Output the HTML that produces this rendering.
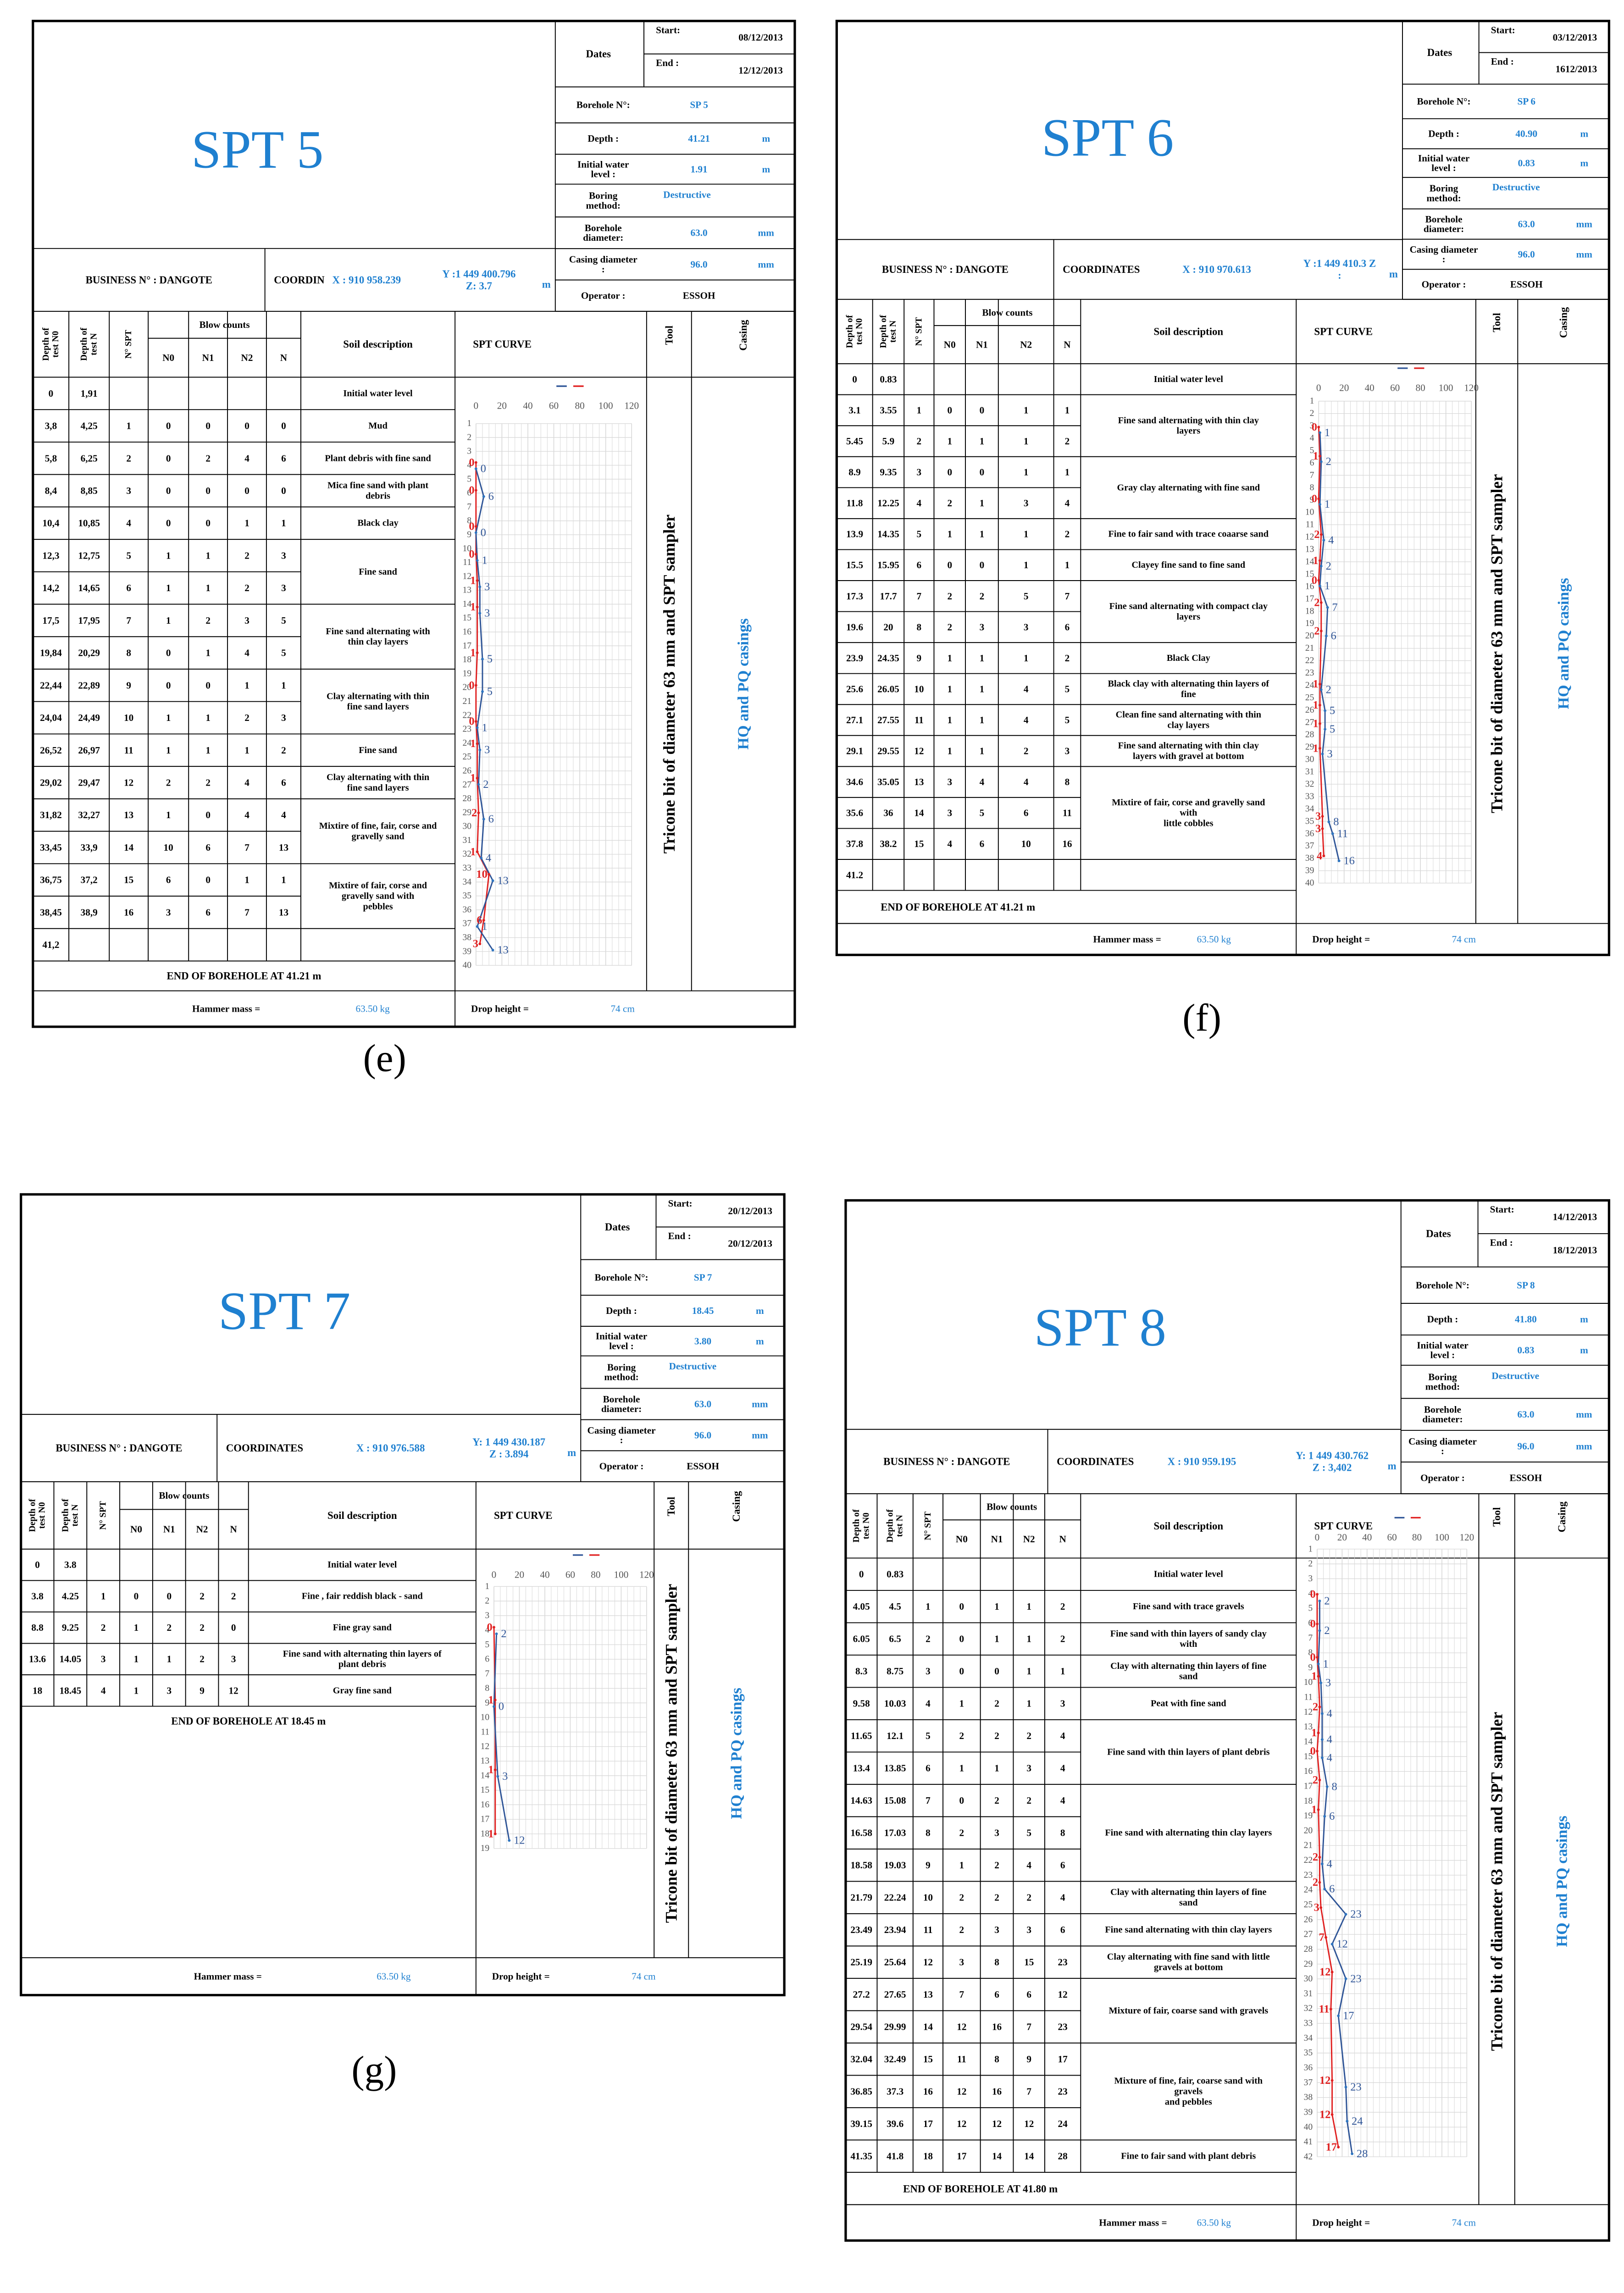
<!DOCTYPE html>
<html><head><meta charset="utf-8"><style>
html,body{margin:0;padding:0;background:#fff;width:3541px;height:5106px;overflow:hidden;}
svg{display:block;}
text{font-family:"Liberation Serif",serif;}
</style></head><body>
<svg id="root" xmlns="http://www.w3.org/2000/svg" width="3541" height="5106" viewBox="0 0 1085 1564.5"></svg>
<script>
// ---------- DATA: SPT 5 ----------
const e_depthN0 = [3.8,5.8,8.4,10.4,12.3,14.2,17.5,19.84,22.44,24.04,26.52,29.02,31.82,33.45,36.75,38.45];
const e_depthN  = [4.25,6.25,8.85,10.85,12.75,14.65,17.95,20.29,22.89,24.49,26.97,29.47,32.27,33.9,37.2,38.9];
const e_N0 = [0,0,0,0,1,1,1,0,0,1,1,2,1,10,6,3];
const e_N1 = [0,2,0,0,1,1,2,1,0,1,1,2,0,6,0,6];
const e_N2 = [0,4,0,1,2,2,3,4,1,2,1,4,4,7,1,7];
const e_N  = [0,6,0,1,3,3,5,5,1,3,2,6,4,13,1,13];
const e_soil = [[0,1,"Initial water level"],[1,1,"Mud"],[2,1,"Plant debris with fine sand"],[3,1,"Mica fine sand with plant|debris"],[4,1,"Black clay"],[5,2,"Fine sand"],[7,2,"Fine sand alternating with|thin clay layers"],[9,2,"Clay alternating with thin|fine sand layers"],[11,1,"Fine sand"],[12,1,"Clay alternating with thin|fine sand layers"],[13,2,"Mixtire of fine, fair, corse and|gravelly sand"],[15,2,"Mixtire of fair, corse and|gravelly sand with|pebbles"],[17,1,""]];
// ---------- DATA: SPT 6 ----------
const f_depthN0 = [3.1,5.45,8.9,11.8,13.9,15.5,17.3,19.6,23.9,25.6,27.1,29.1,34.6,35.6,37.8];
const f_depthN  = [3.55,5.9,9.35,12.25,14.35,15.95,17.7,20,24.35,26.05,27.55,29.55,35.05,36,38.2];
const f_N0 = [0,1,0,2,1,0,2,2,1,1,1,1,3,3,4];
const f_N1 = [0,1,0,1,1,0,2,3,1,1,1,1,4,5,6];
const f_N2 = [1,1,1,3,1,1,5,3,1,4,4,2,4,6,10];
const f_N  = [1,2,1,4,2,1,7,6,2,5,5,3,8,11,16];
const f_soil = [[0,1,"Initial water level"],[1,2,"Fine sand alternating with thin clay|layers"],[3,2,"Gray clay alternating with fine sand"],[5,1,"Fine to fair sand with trace coaarse sand"],[6,1,"Clayey fine sand to fine sand"],[7,2,"Fine sand alternating with compact clay|layers"],[9,1,"Black Clay"],[10,1,"Black clay with alternating thin layers of|fine"],[11,1,"Clean fine sand alternating with thin|clay layers"],[12,1,"Fine sand alternating with thin clay|layers with gravel at bottom"],[13,3,"Mixtire of fair, corse and gravelly sand|with|little cobbles"],[16,1,""]];
// ---------- DATA: SPT 7 ----------
const g_depthN0 = [3.8,8.8,13.6,18];
const g_depthN  = [4.25,9.25,14.05,18.45];
const g_N0 = [0,1,1,1];
const g_N1 = [0,2,1,3];
const g_N2 = [2,2,2,9];
const g_N  = [2,0,3,12];
const g_soil = [[0,1,"Initial water level"],[1,1,"Fine , fair reddish black - sand"],[2,1,"Fine gray sand"],[3,1,"Fine sand with alternating thin layers of|plant debris"],[4,1,"Gray fine sand"]];
// ---------- DATA: SPT 8 ----------
const h_depthN0 = [4.05,6.05,8.3,9.58,11.65,13.4,14.63,16.58,18.58,21.79,23.49,25.19,27.2,29.54,32.04,36.85,39.15,41.35];
const h_depthN  = [4.5,6.5,8.75,10.03,12.1,13.85,15.08,17.03,19.03,22.24,23.94,25.64,27.65,29.99,32.49,37.3,39.6,41.8];
const h_N0 = [0,0,0,1,2,1,0,2,1,2,2,3,7,12,11,12,12,17];
const h_N1 = [1,1,0,2,2,1,2,3,2,2,3,8,6,16,8,16,12,14];
const h_N2 = [1,1,1,1,2,3,2,5,4,2,3,15,6,7,9,7,12,14];
const h_N  = [2,2,1,3,4,4,4,8,6,4,6,23,12,23,17,23,24,28];
const h_soil = [[0,1,"Initial water level"],[1,1,"Fine sand with trace gravels"],[2,1,"Fine sand with thin layers of sandy clay|with"],[3,1,"Clay with alternating thin layers of fine|sand"],[4,1,"Peat with fine sand"],[5,2,"Fine sand with thin layers of plant debris"],[7,3,"Fine sand with alternating thin clay layers"],[10,1,"Clay with alternating thin layers of fine|sand"],[11,1,"Fine sand alternating with thin clay layers"],[12,1,"Clay alternating with fine sand with little|gravels at bottom"],[13,2,"Mixture of fair, coarse sand with gravels"],[15,3,"Mixture of fine, fair, coarse sand with|gravels|and pebbles"],[18,1,"Fine to fair sand with plant debris"]];
const xTicks = [0,20,40,60,80,100,120];

const NS="http://www.w3.org/2000/svg";
const root=document.getElementById('root');
function add(p,tag,a,name){
  const el=document.createElementNS(NS,tag);
  for(const k in a) el.setAttribute(k,a[k]);
  
  
  p.appendChild(el); return el;
}
function line(p,x1,y1,x2,y2,name,w,c){return add(p,'line',{x1,y1,x2,y2,stroke:c||'#000','stroke-width':w||0.6},name);}
function txt(p,x,y,s,size,name,o){
  o=o||{};
  const a={x,y,'font-size':size,'text-anchor':o.anchor||'middle','dominant-baseline':'central',fill:o.fill||'#000','font-weight':o.weight||'bold'};
  if(o.family) a['font-family']=o.family;
  if(o.rot) a.transform='rotate(-90 '+x+' '+y+')';
  const t=add(p,'text',a,name); t.textContent=s; return t;
}
function mtxt(p,x,y,s,size,lh,name,o){
  const ls=s.split('|');
  o=o||{};
  ls.forEach((l,i)=>{const off=(i-(ls.length-1)/2)*lh; if(o.rot) txt(p,x+off,y,l,size,name,o); else txt(p,x,y+off,l,size,name,o);});
}
const BLUE='#1f80d0';

function drawPanel(P,D){
  const g=add(root,'g',{},'panel-'+P.id);
  const fmt=v=>{let s=String(v);return P.comma?s.replace('.',','):s;};
  add(g,'rect',{x:P.x0,y:P.y0,width:P.x1-P.x0,height:P.y1-P.y0,fill:'none',stroke:'#000','stroke-width':1.6},'panel-frame');
  txt(g,P.title[0],P.title[1],P.titleText,36,'panel-title',{fill:BLUE,weight:'normal',family:'"Liberation Sans",sans-serif'});
  txt(g,P.cap[0],P.cap[1],'('+P.id+')',26,'panel-caption',{weight:'normal'});
  const fr=[0,.227,.351,.459,.562,.675,.784,.892,1];
  const hy=fr.map(f=>P.y0+f*(P.bizY1-P.y0));
  line(g,P.hx,P.y0,P.hx,P.bizY1,'header-box-left');
  for(let i=1;i<fr.length;i++) line(g,P.hx,hy[i],P.x1,hy[i],'header-row-line');
  const hw=P.x1-P.hx, dx=P.hx+hw*0.37;
  line(g,dx,P.y0,dx,hy[1],'dates-divider');
  line(g,dx,(P.y0+hy[1])/2,P.x1,(P.y0+hy[1])/2,'dates-divider');
  txt(g,P.hx+hw*0.18,(P.y0+hy[1])/2,'Dates',7,'dates-label');
  txt(g,dx+8,P.y0+6,'Start:',6.5,'start-label',{anchor:'start'});
  txt(g,dx+8,(P.y0+hy[1])/2+6,'End :',6.5,'end-label',{anchor:'start'});
  txt(g,P.x1-8,P.y0+11,D.start,6.5,'start-date',{anchor:'end'});
  txt(g,P.x1-8,(P.y0+hy[1])/2+11,D.end,6.5,'end-date',{anchor:'end'});
  const rows=[['Borehole N°:',D.bh,''],['Depth :',D.depth,'m'],['Initial water|level :',D.water,'m'],['Boring|method:',D.method,''],['Borehole|diameter:','63.0','mm'],['Casing diameter|:','96.0','mm'],['Operator :','ESSOH','']];
  rows.forEach((r,i)=>{
    const cy=(hy[i+1]+hy[i+2])/2;
    mtxt(g,P.hx+hw*0.2,cy,r[0],6.5,6.5,'header-label');
    txt(g,P.hx+hw*(i==3?0.55:0.6),i==3?cy-4:cy,r[1],6.5,'header-value',{fill:i==6?'#000':BLUE});
    if(r[2]) txt(g,P.hx+hw*0.88,cy,r[2],6.5,'header-unit',{fill:BLUE});
  });
  line(g,P.x0,P.bizY0,P.hx,P.bizY0,'business-row-top');
  line(g,P.x0,P.bizY1,P.x1,P.bizY1,'business-row-bottom');
  line(g,P.bizSplit,P.bizY0,P.bizSplit,P.bizY1,'business-divider');
  const by=(P.bizY0+P.bizY1)/2;
  txt(g,(P.x0+P.bizSplit)/2,by,'BUSINESS N° : DANGOTE',7,'business-number');
  txt(g,P.bizSplit+6,by,P.coordLabel,7,'coordinates-label',{anchor:'start'});
  txt(g,P.coordX,by,D.cx,7,'coord-x',{fill:BLUE,anchor:'start'});
  mtxt(g,P.coordY,by,D.cy,7,8,'coord-yz',{fill:BLUE});
  txt(g,P.hx-6,by+3,'m',7,'coord-unit',{fill:BLUE});
  const c=P.cols;
  line(g,P.x0,P.thY,P.x1,P.thY,'table-header-bottom');
  const tEnd=P.rowY0+P.nRows*P.rowH;
  for(let i=1;i<=7;i++) line(g,c[i],P.bizY1,c[i],tEnd,'table-column-line');
  for(let i=8;i<=10;i++) line(g,c[i],P.bizY1,c[i],P.hamY0,'table-column-line');
  line(g,c[3],(P.bizY1+P.thY)/2-4,c[7],(P.bizY1+P.thY)/2-4,'blow-counts-divider');
  const hc=(P.bizY1+P.thY)/2;
  ['Depth of|test N0','Depth of|test N','N° SPT'].forEach((s,i)=>mtxt(g,(c[i]+c[i+1])/2,hc,s,6,6.5,'column-header',{rot:true}));
  txt(g,(c[3]+c[7])/2,(P.bizY1+hc-4)/2,'Blow counts',6.5,'blow-counts-header');
  ['N0','N1','N2','N'].forEach((s,i)=>txt(g,(c[i+3]+c[i+4])/2,(hc-4+P.thY)/2,s,6.5,'blow-column-header'));
  txt(g,(c[7]+c[8])/2,hc,'Soil description',7,'soil-description-header');
  txt(g,c[8]+12,hc,'SPT CURVE',7,'spt-curve-header',{anchor:'start'});
  txt(g,(c[9]+c[10])/2,hc-6,'Tool',7,'tool-header',{rot:true});
  txt(g,(c[10]+c[11])/2,hc-6,'Casing',7,'casing-header',{rot:true});
  const nT=D.n.length;
  for(let r=0;r<P.nRows;r++){
    const y=P.rowY0+r*P.rowH, cy=y+P.rowH/2;
    line(g,P.x0,y+P.rowH,c[7],y+P.rowH,'table-row-line');
    if(r==0){txt(g,(c[0]+c[1])/2,cy,'0',6.5,'cell');txt(g,(c[1]+c[2])/2,cy,fmt(D.water0),6.5,'cell');}
    else if(r<=nT){
      const i=r-1;
      const vals=[fmt(D.dN0[i]),fmt(D.dN[i]),i+1,D.n0[i],D.n1[i],D.n2[i],D.n[i]];
      vals.forEach((v,k)=>txt(g,(c[k]+c[k+1])/2,cy,String(v),6.5,'table-cell'));
    } else txt(g,(c[0]+c[1])/2,cy,fmt(D.last),6.5,'cell');
  }
  D.soil.forEach(s=>{
    const y0=P.rowY0+s[0]*P.rowH, y1=y0+s[1]*P.rowH;
    line(g,c[7],y1,c[8],y1,'soil-row-line');
    if(s[2]) mtxt(g,(c[7]+c[8])/2,(y0+y1)/2,s[2],6.2,7,'soil-description');
  });
  if(P.endBox){ line(g,P.x0,P.endY1,c[8],P.endY1,'end-row-line'); }
  txt(g,P.endX,(P.endY0+P.endY1)/2,D.endText,7,'end-of-borehole');
  line(g,P.x0,P.hamY0,P.x1,P.hamY0,'hammer-row-top');
  const hmy=(P.hamY0+P.y1)/2;
  txt(g,(P.x0+c[8])*0.45+0.2*c[0],hmy,'Hammer mass =',6.5,'hammer-mass-label');
  txt(g,c[8]-55,hmy,'63.50 kg',6.5,'hammer-mass-value',{fill:BLUE,weight:'normal'});
  line(g,c[8],P.hamY0,c[8],P.y1,'hammer-divider');
  txt(g,c[8]+30,hmy,'Drop height =',6.5,'drop-height-label');
  txt(g,c[8]+112,hmy,'74 cm',6.5,'drop-height-value',{fill:BLUE,weight:'normal'});
  txt(g,(c[9]+c[10])/2,(P.thY+P.hamY0)/2,'Tricone bit of diameter 63 mm and SPT sampler',11,'tool-description',{rot:true});
  txt(g,(c[10]+c[11])/2,(P.thY+P.hamY0)/2,'HQ and PQ casings',10.5,'casing-description',{rot:true,fill:BLUE});
  const C=P.chart;
  const step=(C.yB-C.y1)/(C.dmax-1);
  const yS=d=>C.y1+(d-1)*step;
  const xS=v=>C.x0+(v/120)*(C.x1-C.x0);
  const cg=add(g,'g',{},'spt-chart');
  for(let v=0;v<=120;v+=5) line(cg,xS(v),yS(1),xS(v),yS(C.dmax),'grid-vertical',v%20==0?0.5:0.3,'#d8d8d8');
  for(let d=1;d<=C.dmax;d++){ line(cg,xS(0),yS(d),xS(120),yS(d),'grid-horizontal',0.4,'#d8d8d8'); txt(cg,xS(0)-3,yS(d),String(d),6,'depth-tick',{anchor:'end',weight:'normal',fill:'#555',family:'"Liberation Sans",sans-serif'}); }
  xTicks.forEach(v=>txt(cg,xS(v),C.lab,String(v),6.5,'x-tick',{weight:'normal',fill:'#555',family:'"Liberation Sans",sans-serif'}));
  line(cg,xS(62),C.lab-13,xS(70),C.lab-13,'legend-n',1,'#2f5597');
  line(cg,xS(75),C.lab-13,xS(83),C.lab-13,'legend-n0',1,'#e02020');
  add(cg,'polyline',{points:D.n0.map((v,i)=>xS(v)+','+yS(D.dN0[i])).join(' '),fill:'none',stroke:'#e02020','stroke-width':0.9},'series-n0-line');
  add(cg,'polyline',{points:D.n.map((v,i)=>xS(v)+','+yS(D.dN[i])).join(' '),fill:'none',stroke:'#2f5597','stroke-width':0.9},'series-n-line');
  D.n0.forEach((v,i)=>{add(cg,'circle',{cx:xS(v),cy:yS(D.dN0[i]),r:0.9,fill:'#e02020'},'n0-point');txt(cg,xS(v)-1,yS(D.dN0[i]),String(v),7.5,'n0-label',{anchor:'end',fill:'#e02020',family:'"Liberation Sans",sans-serif'});});
  D.n.forEach((v,i)=>{add(cg,'circle',{cx:xS(v),cy:yS(D.dN[i]),r:0.9,fill:'#2f75c0'},'n-point');txt(cg,xS(v)+3,yS(D.dN[i]),String(v),7.5,'n-label',{anchor:'start',fill:'#2f5597',weight:'normal',family:'"Liberation Sans",sans-serif'});});
}

drawPanel({id:'e',titleText:'SPT 5',comma:true,x0:22,x1:531,y0:14,y1:686,hx:371,title:[172,100],cap:[257,707],bizY0:166,bizY1:208,bizSplit:177,coordLabel:'COORDIN',coordX:222,coordY:320,thY:252,rowY0:252,rowH:21.67,nRows:18,cols:[22,46,73,99,126,152,178,201,304,432,462,531],endY0:642,endY1:662,endBox:true,endX:163,hamY0:662,chart:{x0:318,x1:422,y1:283,yB:645,dmax:40,lab:271}},
 {start:'08/12/2013',end:'12/12/2013',bh:'SP 5',depth:'41.21',water:'1.91',method:'Destructive',cx:'X :  910 958.239',cy:'Y :1 449 400.796|Z: 3.7',water0:1.91,last:41.2,endText:'END OF BOREHOLE AT 41.21 m',dN0:e_depthN0,dN:e_depthN,n0:e_N0,n1:e_N1,n2:e_N2,n:e_N,soil:e_soil});
drawPanel({id:'f',titleText:'SPT 6',x0:559,x1:1075,y0:14,y1:638,hx:937,title:[740,92],cap:[803,680],bizY0:160,bizY1:200,bizSplit:704,coordLabel:'COORDINATES',coordX:790,coordY:895,thY:243,rowY0:243,rowH:20.7,nRows:17,cols:[559,583,604,624,645,667,704,722,866,986,1014,1075],endY0:595,endY1:617,endBox:true,endX:640,hamY0:617,chart:{x0:881,x1:983,y1:268,yB:590,dmax:40,lab:259}},
 {start:'03/12/2013',end:'1612/2013',bh:'SP 6',depth:'40.90',water:'0.83',method:'Destructive',cx:'X :  910 970.613',cy:'Y :1 449 410.3 Z|:',water0:0.83,last:41.2,endText:'END OF BOREHOLE AT 41.21 m',dN0:f_depthN0,dN:f_depthN,n0:f_N0,n1:f_N1,n2:f_N2,n:f_N,soil:f_soil});
drawPanel({id:'g',titleText:'SPT 7',x0:14,x1:524,y0:798,y1:1333,hx:388,title:[190,876],cap:[250,1383],bizY0:945,bizY1:990,bizSplit:145,coordLabel:'COORDINATES',coordX:238,coordY:340,thY:1035,rowY0:1035,rowH:21,nRows:5,cols:[14,36,58,80,102,124,146,166,318,437,460,524],endY0:1140,endY1:1160,endBox:false,endX:166,hamY0:1308,chart:{x0:330,x1:432,y1:1060,yB:1235,dmax:19,lab:1052}},
 {start:'20/12/2013',end:'20/12/2013',bh:'SP 7',depth:'18.45',water:'3.80',method:'Destructive',cx:'X :  910 976.588',cy:'Y: 1 449 430.187|Z : 3.894',water0:3.8,last:'',endText:'END OF BOREHOLE AT 18.45 m',dN0:g_depthN0,dN:g_depthN,n0:g_N0,n1:g_N1,n2:g_N2,n:g_N,soil:g_soil});
drawPanel({id:'h',titleText:'SPT 8',x0:565,x1:1075,y0:802,y1:1497,hx:936,title:[735,887],cap:[808,1548],bizY0:955,bizY1:998,bizSplit:700,coordLabel:'COORDINATES',coordX:780,coordY:890,thY:1041,rowY0:1041,rowH:21.6,nRows:19,cols:[565,586,610,630,655,677,698,722,866,988,1012,1075],endY0:1452,endY1:1473,endBox:true,endX:655,hamY0:1473,chart:{x0:880,x1:980,y1:1035,yB:1441,dmax:42,lab:1027}},
 {start:'14/12/2013',end:'18/12/2013',bh:'SP 8',depth:'41.80',water:'0.83',method:'Destructive',cx:'X :  910 959.195',cy:'Y: 1 449 430.762|Z : 3,402',water0:0.83,last:'',endText:'END OF BOREHOLE AT 41.80 m',dN0:h_depthN0,dN:h_depthN,n0:h_N0,n1:h_N1,n2:h_N2,n:h_N,soil:h_soil});
</script>
</body></html>
